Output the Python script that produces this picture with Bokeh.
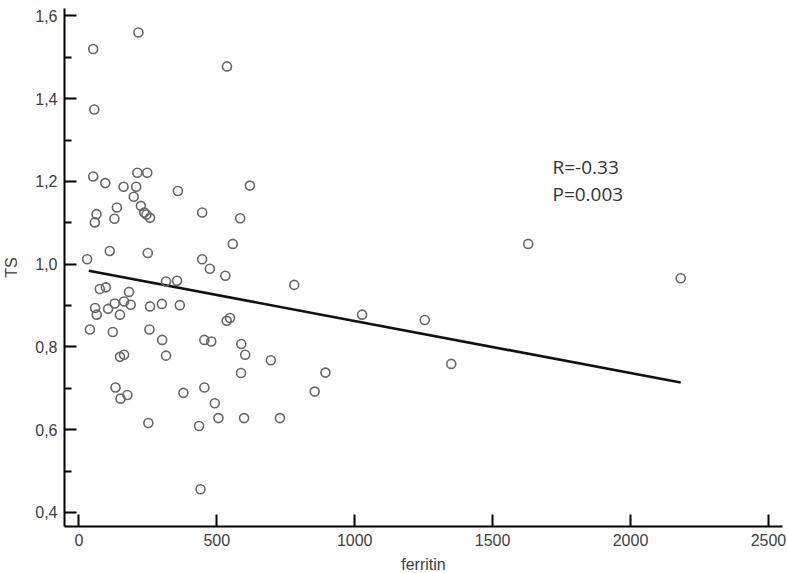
from bokeh.plotting import figure
from bokeh.models import Range1d, FixedTicker, CustomJSTickFormatter, ColumnDataSource
from bokeh.core.properties import value
from bokeh.embed import file_html
from bokeh.resources import INLINE

# ---- data ----
ferritin = [216, 52, 537, 56, 212, 248, 52, 96, 162, 208,
            620, 359, 199, 225, 138, 237, 245, 258, 64, 447,
            58, 129, 585, 558, 112, 250, 30, 447, 475, 531,
            781, 316, 356, 76, 98, 182, 59, 65, 106, 130,
            164, 188, 149, 258, 301, 366, 40, 123, 256, 302,
            455, 480, 536, 548, 589, 603, 696, 149, 164, 316,
            588, 133, 151, 176, 379, 455, 493, 855, 506, 599,
            729, 252, 436, 441, 1629, 1027, 1254, 1350, 894, 2182]
ts = [1.560, 1.520, 1.478, 1.374, 1.221, 1.221, 1.212, 1.196, 1.187, 1.187,
      1.190, 1.177, 1.163, 1.141, 1.137, 1.125, 1.120, 1.112, 1.121, 1.125,
      1.101, 1.110, 1.111, 1.049, 1.032, 1.027, 1.012, 1.012, 0.989, 0.972,
      0.950, 0.958, 0.960, 0.940, 0.944, 0.933, 0.894, 0.878, 0.892, 0.905,
      0.910, 0.902, 0.878, 0.898, 0.904, 0.901, 0.842, 0.836, 0.842, 0.817,
      0.817, 0.813, 0.863, 0.870, 0.807, 0.781, 0.768, 0.776, 0.781, 0.779,
      0.737, 0.702, 0.675, 0.684, 0.689, 0.702, 0.664, 0.692, 0.628, 0.628,
      0.628, 0.616, 0.609, 0.456, 1.049, 0.878, 0.865, 0.759, 0.738, 0.966]

fit_ferritin = [36, 2182]
fit_ts = [0.984, 0.714]

x_ticks = [0, 500, 1000, 1500, 2000, 2500]
y_ticks = [0.4, 0.6, 0.8, 1.0, 1.2, 1.4, 1.6]

stats_text = ["R=-0.33", "P=0.003"]
stats_x = [1717, 1717]
stats_y = [1.236, 1.170]

# ---- figure ----
p = figure(frame_width=718, frame_height=518,
           x_range=Range1d(-52, 2551), y_range=Range1d(0.366, 1.618),
           output_backend="svg", toolbar_location=None,
           min_border_left=62, min_border_right=6,
           min_border_top=8, min_border_bottom=47)
p.outline_line_color = None
p.grid.visible = False
p.background_fill_color = "white"
p.border_fill_color = "white"

p.line(fit_ferritin, fit_ts, line_color="#111111", line_width=2.6)

src = ColumnDataSource(dict(x=ferritin, y=ts))
p.scatter("x", "y", source=src, marker="circle", size=9,
          fill_color=None, line_color="#666666", line_width=1.6)

p.text(x=stats_x, y=stats_y, text=stats_text,
       text_font=value("Open Sans"), text_font_size="19px",
       text_color="#333333", text_baseline="alphabetic", text_align="left")

label_font = "Liberation Sans"
for ax in (p.xaxis[0], p.yaxis[0]):
    ax.axis_line_color = "black"
    ax.axis_line_width = 2
    ax.major_tick_line_color = "black"
    ax.major_tick_line_width = 2
    ax.major_tick_out = 0
    ax.major_tick_in = 12
    ax.minor_tick_out = 0
    ax.major_label_text_font = label_font
    ax.major_label_text_font_size = "16px"
    ax.major_label_text_color = "#404040"
    ax.axis_label_text_font = label_font
    ax.axis_label_text_font_size = "16px"
    ax.axis_label_text_font_style = "normal"
    ax.axis_label_text_color = "#404040"

p.xaxis.ticker = FixedTicker(ticks=x_ticks)
p.xaxis.minor_tick_line_color = None
p.xaxis.axis_label = "ferritin"
p.xaxis.major_label_standoff = 7
p.xaxis.axis_label_standoff = 7

minor_y = [round(t + 0.1, 1) for t in y_ticks[:-1]]
p.yaxis.ticker = FixedTicker(ticks=y_ticks, minor_ticks=minor_y)
p.yaxis.minor_tick_line_color = "black"
p.yaxis.minor_tick_line_width = 2
p.yaxis.minor_tick_in = 7
p.yaxis.axis_label = "TS"
p.yaxis.major_label_standoff = 7
p.yaxis.axis_label_standoff = 12
p.yaxis.formatter = CustomJSTickFormatter(code="return tick.toFixed(1).replace('.', ',');")

open("out.html", "w").write(file_html(p, INLINE))
